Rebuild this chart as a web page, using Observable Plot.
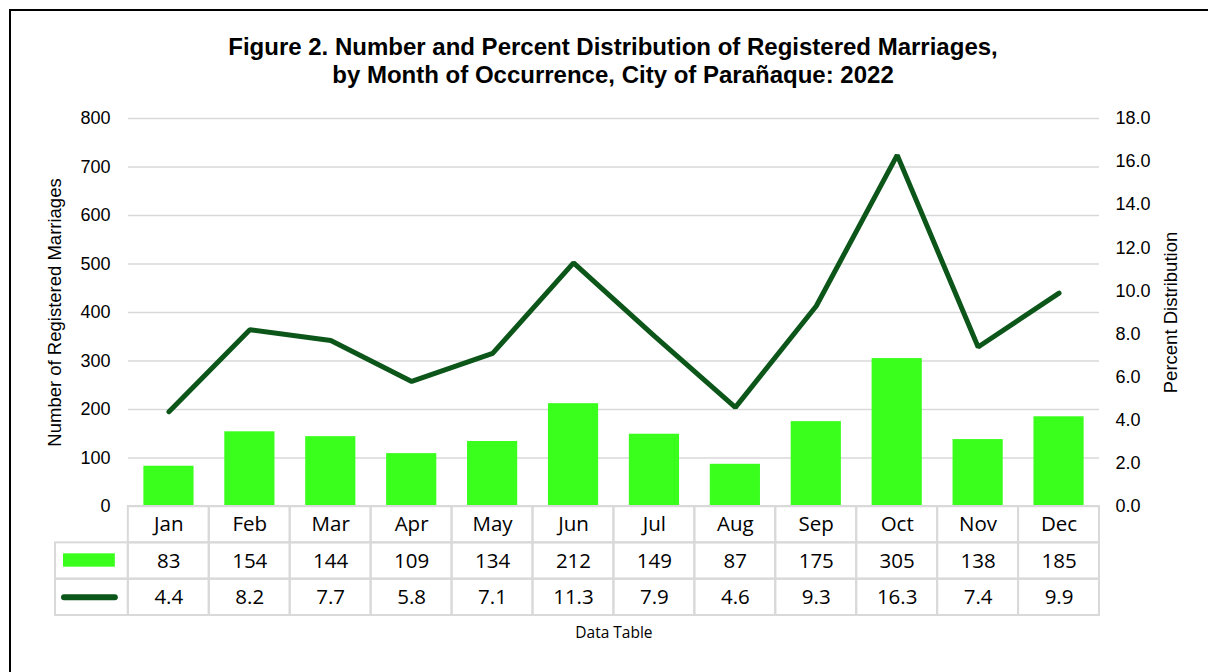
<!DOCTYPE html>
<html>
<head>
<meta charset="utf-8">
<script src="https://cdn.jsdelivr.net/npm/d3@7"></script>
<script src="https://cdn.jsdelivr.net/npm/@observablehq/plot@0.6"></script>
<style>
  html, body { margin: 0; padding: 0; background: #fff; }
  #wrap { position: relative; width: 1208px; height: 672px; overflow: hidden; background: #fff; }
  #wrap svg { position: absolute; left: 0; top: 0; }
  #border { position: absolute; left: 9px; top: 8.5px; width: 1400px; height: 900px; border-top: 2px solid #000; border-left: 2px solid #000; }
  #title { position: absolute; left: 113px; top: 33px; width: 1000px; text-align: center;
    font-family: "Liberation Sans", Arial, sans-serif; font-weight: bold; font-size: 24px; line-height: 28px; color: #000; }
</style>
</head>
<body>
<div id="wrap">
  <div id="border"></div>
  <div id="title">Figure 2. Number and Percent Distribution of Registered Marriages,<br>by Month of Occurrence, City of Parañaque: 2022</div>
</div>
<script>
const months = ["Jan","Feb","Mar","Apr","May","Jun","Jul","Aug","Sep","Oct","Nov","Dec"];
const counts = [83,154,144,109,134,212,149,87,175,305,138,185];
const percents = [4.4,8.2,7.7,5.8,7.1,11.3,7.9,4.6,9.3,16.3,7.4,9.9];
const countTicks = [0,100,200,300,400,500,600,700,800];
const percentTicks = [0,2,4,6,8,10,12,14,16,18];
const leftTitle = "Number of Registered Marriages";
const rightTitle = "Percent Distribution";
const tableTitle = "Data Table";

const barColor = "#3aff1c";
const lineColor = "#0c561a";
const gridColor = "#d9d9d9";
const k = 800 / 18; // percent -> count axis factor

const data = months.map((m, i) => ({month: m, count: counts[i], pct: percents[i]}));

const chart = Plot.plot({
  width: 1208, height: 672,
  marginLeft: 128, marginRight: 109, marginTop: 118, marginBottom: 166,
  style: {background: "transparent", overflow: "visible", fontFamily: "'Liberation Sans', Arial, sans-serif", fontSize: "18px", color: "#000"},
  x: {domain: months, paddingInner: 0.38, paddingOuter: 0.19, round: false, axis: null},
  y: {domain: [0, 800], axis: null},
  marks: [
    Plot.gridY(countTicks, {stroke: gridColor, strokeOpacity: 1, strokeWidth: 1.5}),
    Plot.barY(data, {x: "month", y: "count", fill: barColor}),
    Plot.lineY(data, {x: "month", y: d => d.pct * k, stroke: lineColor, strokeWidth: 5, strokeLinejoin: "miter"}),
    Plot.axisY(countTicks, {anchor: "left", tickSize: 0, tickPadding: 18, label: null, fontSize: 18}),
    Plot.axisY(percentTicks.map(t => t * k), {anchor: "right", tickSize: 0, tickPadding: 16, label: null, fontSize: 18, tickFormat: d => (d / k).toFixed(1)}),
    Plot.text([leftTitle], {frameAnchor: "left", dx: -73, rotate: -90, textAnchor: "middle", fontSize: 18.5, fill: "#000"}),
    Plot.text([rightTitle], {frameAnchor: "right", dx: 72, rotate: -90, textAnchor: "middle", fontSize: 18.5, fill: "#000"})
  ]
});

// Data table
const legendCol = -0.9;
const rowLabels = [months, counts.map(String), percents.map(v => v.toFixed(1))];
const cells = [];
rowLabels.forEach((row, r) => row.forEach((t, i) => cells.push({x1: i, x2: i + 1, y1: r, y2: r + 1, text: t})));
const legendCells = [1, 2].map(r => ({x1: legendCol, x2: 0, y1: r, y2: r + 1}));

const table = Plot.plot({
  width: 1208, height: 672,
  marginLeft: 55, marginRight: 109, marginTop: 0, marginBottom: 0,
  style: {background: "transparent", overflow: "visible", fontFamily: "'Open Sans', sans-serif", color: "#000"},
  x: {type: "linear", domain: [legendCol, months.length], axis: null},
  y: {type: "linear", domain: [0, 3], range: [506, 615], axis: null},
  marks: [
    Plot.rect(cells, {x1: "x1", x2: "x2", y1: "y1", y2: "y2", fill: "none", stroke: gridColor, strokeWidth: 2}),
    Plot.rect(legendCells, {x1: "x1", x2: "x2", y1: "y1", y2: "y2", fill: "none", stroke: gridColor, strokeWidth: 2}),
    Plot.text(cells, {x: d => (d.x1 + d.x2) / 2, y: d => (d.y1 + d.y2) / 2, text: "text", fontSize: 20.5, fill: "#000"}),
    Plot.rect([legendCells[0]], {x1: "x1", x2: "x2", y1: "y1", y2: "y2", fill: barColor, insetLeft: 8, insetRight: 13, insetTop: 11, insetBottom: 12}),
    Plot.ruleY([legendCells[1]], {y: d => (d.y1 + d.y2) / 2, x1: "x1", x2: "x2", stroke: lineColor, strokeWidth: 6, strokeLinecap: "round", insetLeft: 9, insetRight: 13}),
    Plot.text([tableTitle], {x: months.length / 2, y: 3, dy: 18, fontSize: 15.5, fill: "#000"})
  ]
});

const wrap = document.getElementById("wrap");
wrap.appendChild(chart);
wrap.appendChild(table);
</script>
</body>
</html>
